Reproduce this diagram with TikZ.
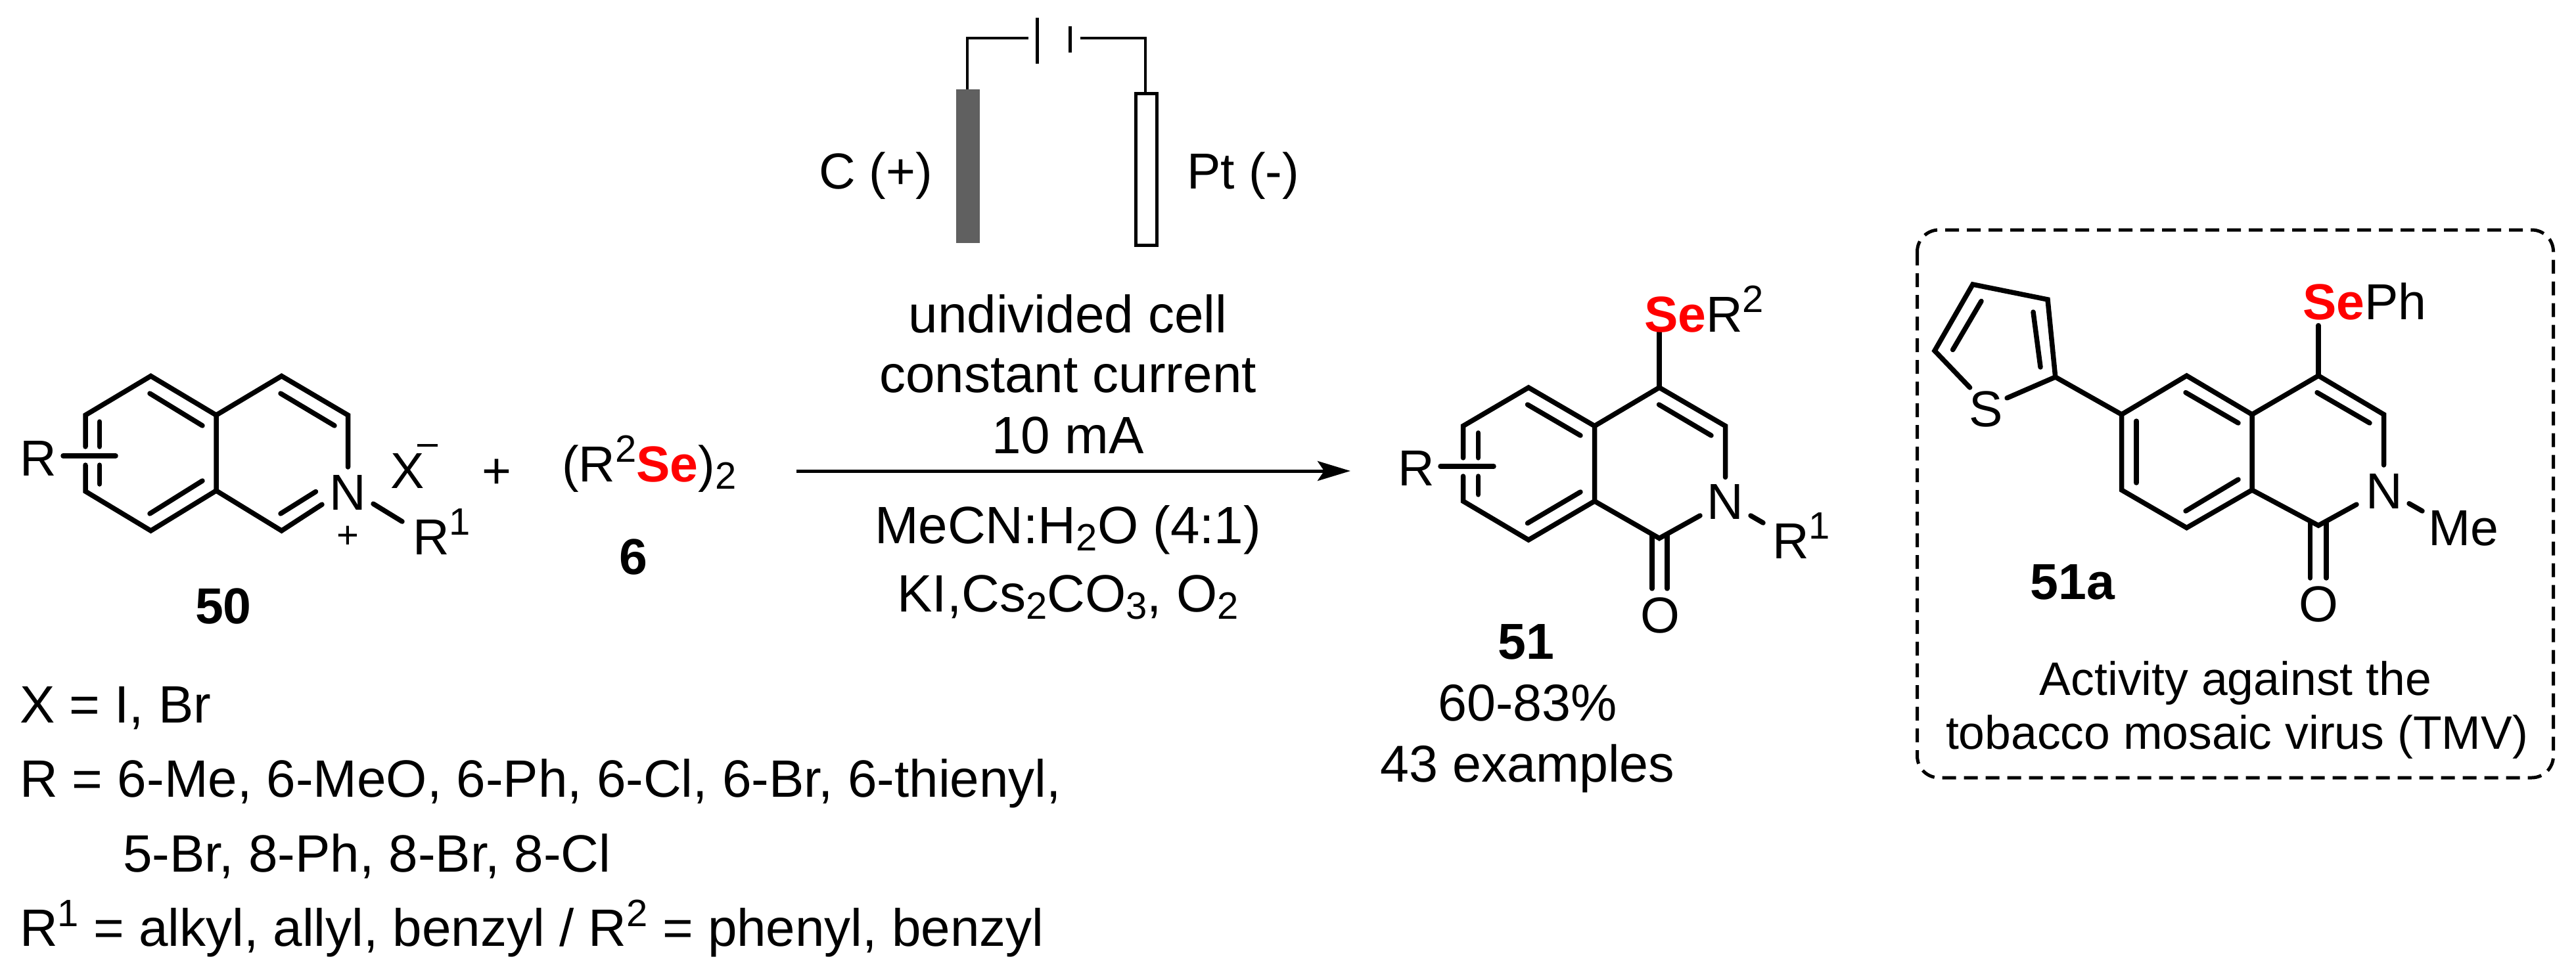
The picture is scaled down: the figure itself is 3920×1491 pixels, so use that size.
\documentclass[tikz,border=0pt]{standalone}
\usepackage{fontspec}
\setmainfont{Liberation Sans}
\usetikzlibrary{arrows.meta}
\newcommand{\fsz}{\fontsize{77}{90}\selectfont}
\newcommand{\fsc}{\fontsize{80}{90}\selectfont}
\newcommand{\fsb}{\fontsize{71.5}{90}\selectfont}
\newcommand{\sbs}[1]{\raisebox{-11pt}{\fontsize{58}{60}\selectfont #1}}
\newcommand{\sps}[1]{\raisebox{30pt}{\fontsize{58}{60}\selectfont #1}}
\definecolor{sered}{RGB}{255,0,0}
\newcommand{\se}{\textcolor{sered}{\textbf{Se}}}
\tikzset{
  bond/.style={line width=7.5pt,line cap=round,line join=miter},
  wire/.style={line width=4.5pt,line cap=butt,line join=miter},
  lbl/.style={inner sep=0pt,outer sep=0pt,anchor=base,font=\fsz},
  lblw/.style={lbl,anchor=base west},
  lblc/.style={lbl,font=\fsc},
  lblbox/.style={lbl,font=\fsb},
  lbll/.style={lblw,font=\fsc},
  atom/.style={inner sep=0pt,outer sep=0pt,anchor=center,font=\fsz},
  cmpd/.style={lbl,font=\fsz\bfseries},
}
\begin{document}
\begin{tikzpicture}[x=1pt,y=-1pt]
\useasboundingbox (0,0) rectangle (3920,1491);
\fill[white] (0,0) rectangle (3920,1491);
% ---- compound 50
\coordinate (a1) at (229.5,572.5);
\coordinate (a2) at (130,632);
\coordinate (a3) at (130,748);
\coordinate (a4) at (229.5,808);
\coordinate (a5) at (329,747);
\coordinate (a6) at (329,632);
\coordinate (a7) at (428.5,572.5);
\coordinate (a8) at (529.5,632);
\coordinate (a9) at (428.5,808);
\node[atom] (aN) at (529,750) {N};
\draw[bond] (130,680) -- (a2) -- (a1) -- (a6) -- (a5) -- (a4) -- (a3) -- (130,708);
\draw[bond] (a6) -- (a7) -- (a8) -- (529.5,711);
\draw[bond] (a5) -- (a9) -- (490,768);
\draw[bond] (228,599) -- (308,648);
\draw[bond] (228,782) -- (308,732);
\draw[bond] (427,599) -- (509,648);
\draw[bond] (427,782) -- (480.5,748.5);
\draw[bond] (151.5,642) -- (151.5,680);
\draw[bond] (151.5,708) -- (151.5,737);
\draw[bond] (96,694) -- (176,694);
\node[lblw] (aR) at (30,724) {R};
\coordinate (aRb) at (568,767);
\coordinate (aRe) at (612,794);
\draw[bond] (aRb) -- (aRe);
\node[lblw] (aR1) at (628,844) {R\sps{1}};
\node[lbl] (aX) at (620,743) {X};
\node[lbl,font=\fontsize{58}{60}\selectfont] (aMinus) at (650,680) {\rule{31pt}{4.5pt}};
\node[lbl,font=\fontsize{58}{60}\selectfont] (aPlus) at (529,834) {+};
\node[lbl] (plus) at (756,743) {+};
\node[lblw] (se6) at (855,733) {(R\sps{2}\se)\sbs{2}};
\node[cmpd] (n50) at (340,949) {50};
\node[cmpd] (n6) at (964,874) {6};
% ---- text lower left
\node[lbll] (t1) at (30,1100) {X = I, Br};
\node[lbll] (t2) at (30,1213) {R = 6-Me, 6-MeO, 6-Ph, 6-Cl, 6-Br, 6-thienyl,};
\node[lbll] (t3) at (187,1327) {5-Br, 8-Ph, 8-Br, 8-Cl};
\node[lbll] (t4) at (30,1440) {R\sps{1} = alkyl, allyl, benzyl / R\sps{2} = phenyl, benzyl};
% ---- cell
\coordinate (c1) at (1472,136);
\coordinate (c2) at (1472,58);
\coordinate (c3) at (1565,58);
\coordinate (c4) at (1644,58);
\coordinate (c5) at (1743,58);
\coordinate (c6) at (1743,142);
\draw[wire] (c1) -- (c2) -- (c3);
\draw[wire] (c4) -- (c5) -- (c6);
\draw[wire,line width=5pt] (1578.5,27) -- (1578.5,97);
\draw[wire,line width=5pt] (1628,40) -- (1628,80);
\fill[fill={rgb,255:red,96;green,96;blue,96}] (1455,136) rectangle (1490.5,370);
\draw[line width=5pt,fill=white] (1728,142) rectangle (1760,373);
\node[lblw] (cC) at (1246,287) {C (+)};
\node[lblw] (cP) at (1806,287) {Pt (-)};
\node[lblc] (r1) at (1625,506) {undivided cell};
\node[lblc] (r2) at (1625,597) {constant current};
\node[lblc] (r3) at (1625,690) {10 mA};
\node[lblc] (r4) at (1625,827) {MeCN:H\sbs{2}O (4:1)};
\node[lblc] (r5) at (1625,931) {KI,Cs\sbs{2}CO\sbs{3}, O\sbs{2}};
\coordinate (arS) at (1212,717);
\coordinate (arE) at (2055,717);
\draw[line width=5pt,-{Stealth[length=50pt,width=30pt,inset=10pt]}] (arS) -- (arE);
% ---- compound 51
\coordinate (b1) at (2326,590);
\coordinate (b2) at (2226.5,648.5);
\coordinate (b3) at (2226.5,763);
\coordinate (b4) at (2326,822);
\coordinate (b5) at (2426.5,763);
\coordinate (b6) at (2426.5,648.5);
\coordinate (b7) at (2525,590);
\coordinate (b8) at (2625.5,648.5);
\coordinate (b9) at (2525,819.5);
\node[atom] (bN) at (2625.5,764) {N};
\node[atom] (bO) at (2526,937) {O};
\draw[bond] (2226.5,697) -- (b2) -- (b1) -- (b6) -- (b5) -- (b4) -- (b3) -- (2226.5,725);
\draw[bond] (b6) -- (b7) -- (b8) -- (2625.5,726.5);
\draw[bond] (b5) -- (b9) -- (2587,785);
\draw[bond] (2324.5,616) -- (2405,663);
\draw[bond] (2324.5,796.5) -- (2405,749);
\draw[bond] (2524.5,616) -- (2604,663);
\draw[bond] (2249.5,659) -- (2249.5,697);
\draw[bond] (2249.5,725) -- (2249.5,753);
\draw[bond] (2192,710) -- (2273,710);
\draw[bond] (2514,814) -- (2514,896);
\draw[bond] (2537,814) -- (2537,896);
\draw[bond] (b7) -- (2525,506);
\draw[bond] (2664,785) -- (2683,796);
\node[lblw] (bR) at (2127,739) {R};
\node[lblw] (bR1) at (2697,850) {R\sps{1}};
\node[lblw] (bSe) at (2502,505) {\se R\sps{2}};
\node[cmpd] (n51) at (2322,1003) {51};
\node[lbl,font=\fontsize{79}{90}\selectfont] (y1) at (2324.5,1097) {60-83\%};
\node[lbl,font=\fontsize{79}{90}\selectfont] (y2) at (2324.5,1190) {43 examples};
% ---- box 51a
\draw[line width=5pt,dash pattern=on 21pt off 12pt,rounded corners=33pt] (2917.5,350) rectangle (3885.5,1184);
\coordinate (d1) at (3327.5,572);
\coordinate (d2) at (3228.5,631);
\coordinate (d3) at (3228.5,746);
\coordinate (d4) at (3327.5,803.5);
\coordinate (d5) at (3427,746);
\coordinate (d6) at (3427,631);
\coordinate (d7) at (3528,572);
\coordinate (d8) at (3627.5,631);
\coordinate (d9) at (3528,800);
\coordinate (th2) at (3127.7,574);
\coordinate (th3) at (3116,456);
\coordinate (th4) at (3002,433);
\coordinate (th5) at (2944,534);
\node[atom] (dN) at (3628.7,748) {N};
\node[atom] (dO) at (3528,920) {O};
\node[atom] (dS) at (3021.7,623) {S};
\draw[bond] (d1) -- (d2) -- (d3) -- (d4) -- (d5) -- (d6) -- cycle;
\draw[bond] (d6) -- (d7) -- (d8) -- (3627.5,708);
\draw[bond] (d5) -- (d9) -- (3586,768);
\draw[bond] (3326,597.6) -- (3406,644);
\draw[bond] (3251,641) -- (3251,735);
\draw[bond] (3326,778) -- (3406,730);
\draw[bond] (3526,597.6) -- (3606,644);
\draw[bond] (d7) -- (3528,495.5);
\draw[bond] (3515.5,795) -- (3515.5,880);
\draw[bond] (3540,795) -- (3540,880);
\draw[bond] (3666,766.6) -- (3686,778);
\draw[bond] (d2) -- (th2) -- (th3) -- (th4) -- (th5) -- (2997.6,590);
\draw[bond] (th2) -- (3054,606);
\draw[bond] (3094,475) -- (3105,559);
\draw[bond] (3015,458.5) -- (2971.6,532.5);
\node[lblw] (dSe) at (3504,486) {\se Ph};
\node[lblw] (dMe) at (3695,830) {Me};
\node[cmpd] (n51a) at (3154,912) {51a};
\node[lblbox] (e1) at (3402,1058) {Activity against the};
\node[lblbox] (e2) at (3404,1140) {tobacco mosaic virus (TMV)};
\end{tikzpicture}
\end{document}
